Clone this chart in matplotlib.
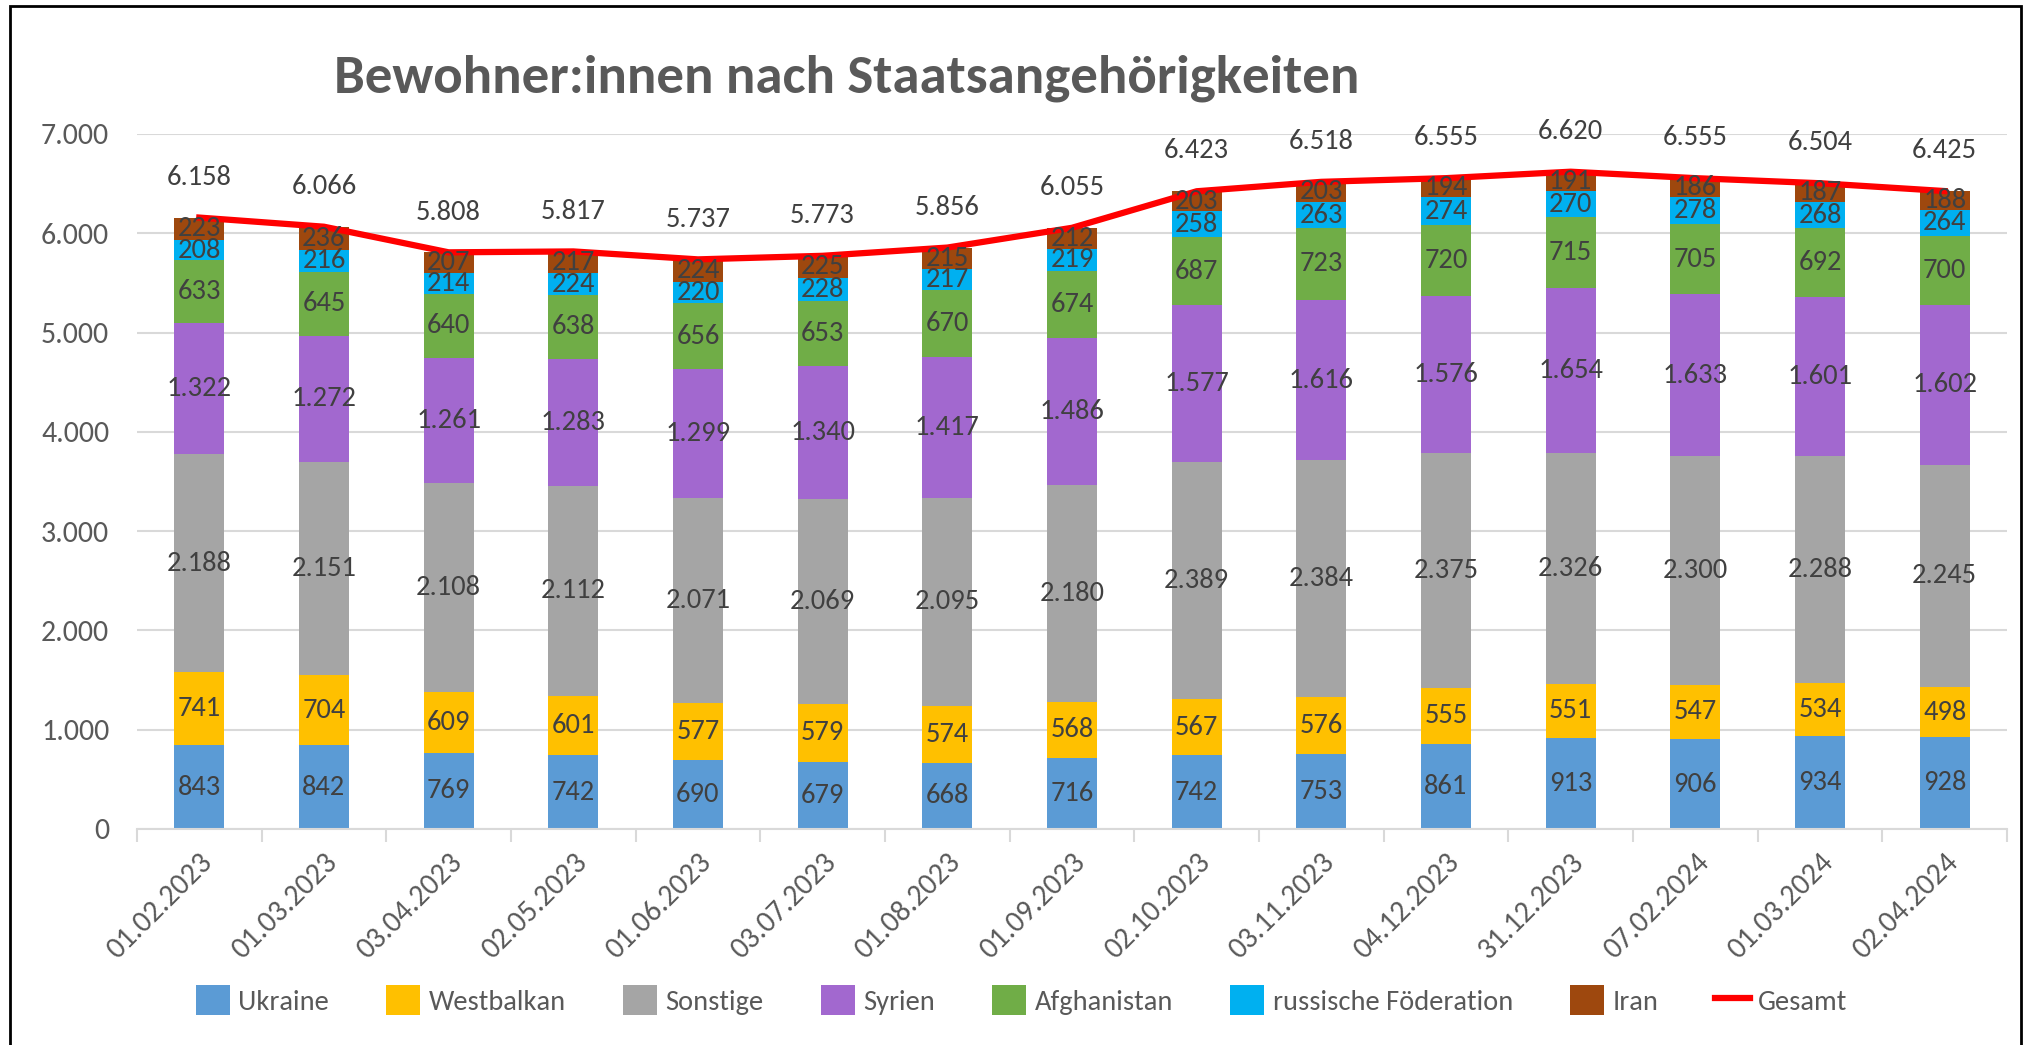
import numpy as np
import matplotlib
matplotlib.use("Agg")
import matplotlib.pyplot as plt
from matplotlib import font_manager
from matplotlib.patches import Rectangle

# Daten
daten = ["01.02.2023", "01.03.2023", "03.04.2023", "02.05.2023", "01.06.2023",
         "03.07.2023", "01.08.2023", "01.09.2023", "02.10.2023", "03.11.2023",
         "04.12.2023", "31.12.2023", "07.02.2024", "01.03.2024", "02.04.2024"]

ukraine = [843, 842, 769, 742, 690, 679, 668, 716, 742, 753, 861, 913, 906, 934, 928]
westbalkan = [741, 704, 609, 601, 577, 579, 574, 568, 567, 576, 555, 551, 547, 534, 498]
sonstige = [2188, 2151, 2108, 2112, 2071, 2069, 2095, 2180, 2389, 2384, 2375, 2326, 2300, 2288, 2245]
syrien = [1322, 1272, 1261, 1283, 1299, 1340, 1417, 1486, 1577, 1616, 1576, 1654, 1633, 1601, 1602]
afghanistan = [633, 645, 640, 638, 656, 653, 670, 674, 687, 723, 720, 715, 705, 692, 700]
russland = [208, 216, 214, 224, 220, 228, 217, 219, 258, 263, 274, 270, 278, 268, 264]
iran = [223, 236, 207, 217, 224, 225, 215, 212, 203, 203, 194, 191, 186, 187, 188]
gesamt = [6158, 6066, 5808, 5817, 5737, 5773, 5856, 6055, 6423, 6518, 6555, 6620, 6555, 6504, 6425]

serien = [("Ukraine", ukraine, "#5B9BD5"),
          ("Westbalkan", westbalkan, "#FFC000"),
          ("Sonstige", sonstige, "#A5A5A5"),
          ("Syrien", syrien, "#A268CF"),
          ("Afghanistan", afghanistan, "#70AD47"),
          ("russische Föderation", russland, "#00B0F0"),
          ("Iran", iran, "#9E480E")]

# Schrift: etwas Schmales wie Calibri, falls vorhanden
vorhanden = {f.name for f in font_manager.fontManager.ttflist}
schrift = "DejaVu Sans"
for kandidat in ["Carlito", "Liberation Sans Narrow", "Open Sans"]:
    if kandidat in vorhanden:
        schrift = kandidat
        break
plt.rcParams["font.family"] = [schrift, "DejaVu Sans"]


def punkt(v):
    return f"{v:,}".replace(",", ".")


fig = plt.figure(figsize=(20.23, 10.45), dpi=100)
ax = fig.add_axes([0.0677, 0.2067, 0.9244, 0.6651])

x = np.arange(len(daten))
unten = np.zeros(len(daten))
griffe = []
for name, werte, farbe in serien:
    werte = np.array(werte)
    b = ax.bar(x, werte, width=0.4, bottom=unten, color=farbe, label=name, zorder=2)
    griffe.append(b)
    for xi, u, v in zip(x, unten, werte):
        ax.text(xi, u + v / 2, punkt(v), ha="center", va="center",
                fontsize=20.5, color="#404040", zorder=4)
    unten = unten + werte

linie, = ax.plot(x, gesamt, color="#FF0000", lw=4.5, zorder=3, label="Gesamt")
griffe.append(linie)
for xi, v in zip(x, gesamt):
    ax.annotate(punkt(v), (xi, v), xytext=(0, 29), textcoords="offset points",
                ha="center", va="center", fontsize=20.5, color="#404040",
                annotation_clip=False)

ax.set_xlim(-0.5, len(daten) - 0.5)
ax.set_ylim(0, 7000)
ax.set_yticks(np.arange(0, 7001, 1000))
ax.set_yticklabels([punkt(v) for v in range(0, 7001, 1000)])
ax.yaxis.grid(True, color="#D9D9D9", lw=1.5, zorder=0)
ax.set_axisbelow(True)
ax.tick_params(axis="y", length=0, pad=20, labelsize=21.5, labelcolor="#595959")

ax.set_xticks(x)
ax.set_xticklabels(daten, rotation=45, ha="right", rotation_mode="anchor")
ax.set_xticks(np.arange(-0.5, len(daten)), minor=True)
ax.tick_params(axis="x", which="major", length=0, pad=14, labelsize=21.5, labelcolor="#595959")
ax.tick_params(axis="x", which="minor", length=9, width=1.5, color="#D9D9D9")

for s in ["top", "right", "left"]:
    ax.spines[s].set_visible(False)
ax.spines["bottom"].set_color("#D9D9D9")
ax.spines["bottom"].set_linewidth(1.5)

fig.text(0.4187, 0.925, "Bewohner:innen nach Staatsangehörigkeiten", ha="center", va="center",
         fontsize=39.5, fontweight="bold", color="#595959")

fig.legend(griffe, [s[0] for s in serien] + ["Gesamt"], loc="center",
           bbox_to_anchor=(0.505, 0.043), ncol=8,
           frameon=False, fontsize=20.5, labelcolor="#595959",
           handlelength=1.2, handleheight=1.2, handletextpad=0.3, columnspacing=2.0)

fig.patches.append(Rectangle((0.005, -0.02), 0.994, 1.014, transform=fig.transFigure,
                             fill=False, edgecolor="black", lw=2))

fig.savefig("out.png", dpi=100)
